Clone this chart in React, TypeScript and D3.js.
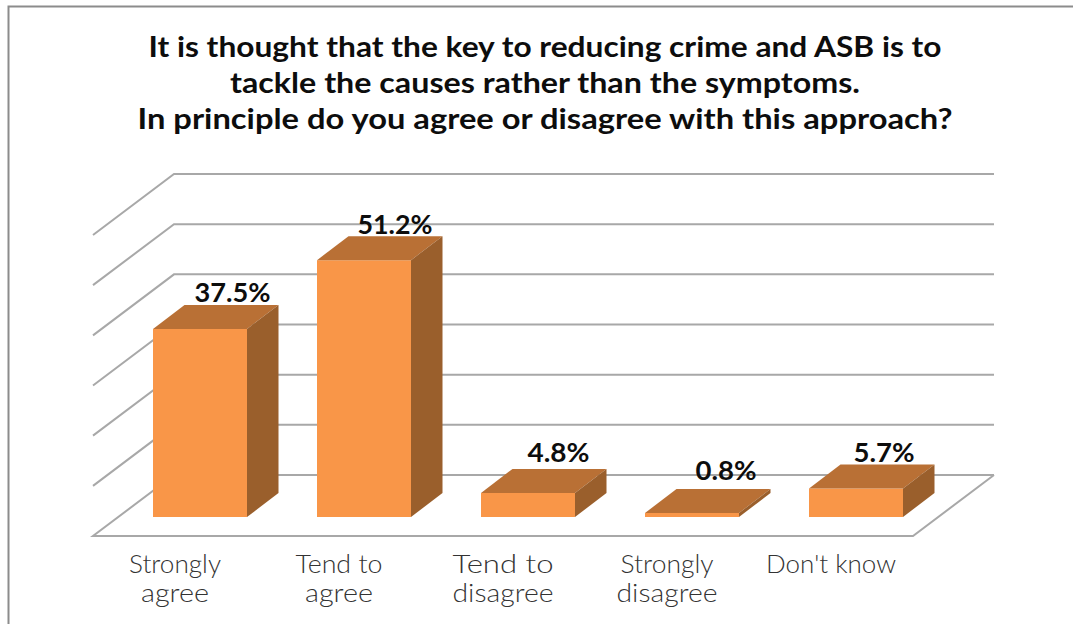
import React from "react";
import * as d3 from "d3";

const categories = ["Strongly agree", "Tend to agree", "Tend to disagree", "Strongly disagree", "Don't know"];
const categoryLines = [["Strongly", "agree"], ["Tend to", "agree"], ["Tend to", "disagree"], ["Strongly", "disagree"], ["Don't know"]];
const values = [37.5, 51.2, 4.8, 0.8, 5.7];
const valueLabels = ["37.5%", "51.2%", "4.8%", "0.8%", "5.7%"];
const gridTicks = [0, 10, 20, 30, 40, 50, 60];
const titleLines = [
  "It is thought that the key to reducing crime and ASB is to",
  "tackle the causes rather than the symptoms.",
  "In principle do you agree or disagree with this approach?",
];
const titleWidths = [793, 630, 815];
const labelWidths = [92, 87, 101, 93, 130];
const secondLineWidths = [68, 68, 101, 101, 0];
const valueLabelWidths = [76, 75, 62, 61, 61];
const valueLabelNudge = [1, -0.5, -1, 2.5, -3.5];
const valueLabelRise = [2.5, 2.5, 7, 9, 2.5];

const WIDTH = 1073;
const HEIGHT = 624;
const FONT = "'Lato', 'Open Sans', sans-serif";
const GRID = "#a8a8a8";
const FRONT = "#f99648";
const TOP = "#b97035";
const SIDE = "#9a5f2c";

// Oblique projection of the 3D box: the back wall sits up and to the right of the floor's front edge.
const wallDepth = { dx: 81, dy: 61 };
const barInset = { dx: 25, dy: 19 };
const barDepth = { dx: 31.5, dy: 24 };

const xFront = d3.scaleBand<string>().domain(categories).range([93, 913]);
const yBack = d3.scaleLinear().domain([0, 60]).range([475, 174]);
const BAR_WIDTH = 94;

function poly(points: [number, number][]) {
  return d3.line()(points)! + "Z";
}

export default function App() {
  const frontY = (v: number) => yBack(v) + wallDepth.dy;
  const floorRight = 93 + xFront.bandwidth() * categories.length;
  return (
    <svg
      width={WIDTH}
      height={HEIGHT}
      viewBox={`0 0 ${WIDTH} ${HEIGHT}`}
      style={{ position: "absolute", left: 0, top: 0, background: "#fff" }}
    >
      <path d={`M8.5,${HEIGHT}V6.5H${WIDTH}`} fill="none" stroke="#8c8c8c" strokeWidth={2} />

      <g fontFamily={FONT} fontWeight={700} fontSize={28} fill="#0d0d0d" textAnchor="middle">
        {titleLines.map((line, i) => (
          <text key={line} x={545} y={56.5 + i * 36} textLength={titleWidths[i]} lengthAdjust="spacingAndGlyphs">
            {line}
          </text>
        ))}
      </g>

      <g fill="none" stroke={GRID} strokeWidth={2}>
        {gridTicks.map((t) => (
          <path
            key={t}
            d={
              t === 0
                ? `M${floorRight + wallDepth.dx},${yBack(0)}L${floorRight},${frontY(0)}H93L${93 + wallDepth.dx},${yBack(0)}H${floorRight + wallDepth.dx}`
                : `M93,${frontY(t)}L${93 + wallDepth.dx},${yBack(t)}H${floorRight + wallDepth.dx}`
            }
          />
        ))}
      </g>

      {categories.map((c, i) => {
        const x0 = xFront(c)! + xFront.bandwidth() / 2 + barInset.dx - BAR_WIDTH / 2;
        const x1 = x0 + BAR_WIDTH;
        const base = yBack(0) + wallDepth.dy - barInset.dy;
        const top = yBack(values[i]) + wallDepth.dy - barInset.dy;
        const { dx, dy } = barDepth;
        return (
          <g key={c}>
            <path d={poly([[x0, base], [x0, top], [x1, top], [x1, base]])} fill={FRONT} />
            <path d={poly([[x0, top], [x0 + dx, top - dy], [x1 + dx, top - dy], [x1, top]])} fill={TOP} />
            <path d={poly([[x1, base], [x1, top], [x1 + dx, top - dy], [x1 + dx, base - dy]])} fill={SIDE} />
            <text
              x={(x0 + x1) / 2 + dx + valueLabelNudge[i]}
              y={top - dy - valueLabelRise[i]}
              textAnchor="middle"
              fontFamily={FONT}
              fontWeight={700}
              fontSize={27}
              fill="#0d0d0d"
              textLength={valueLabelWidths[i]}
              lengthAdjust="spacingAndGlyphs"
            >
              {valueLabels[i]}
            </text>
          </g>
        );
      })}

      <g fontFamily={FONT} fontWeight={300} fontSize={25} fill="#333333" textAnchor="middle">
        {categories.map((c, i) => {
          const cx = xFront(c)! + xFront.bandwidth() / 2;
          return categoryLines[i].map((line, j) => (
            <text
              key={line}
              x={cx}
              y={573 + j * 29}
              textLength={j === 0 ? labelWidths[i] : secondLineWidths[i]}
              lengthAdjust="spacingAndGlyphs"
            >
              {line}
            </text>
          ));
        })}
      </g>
    </svg>
  );
}
